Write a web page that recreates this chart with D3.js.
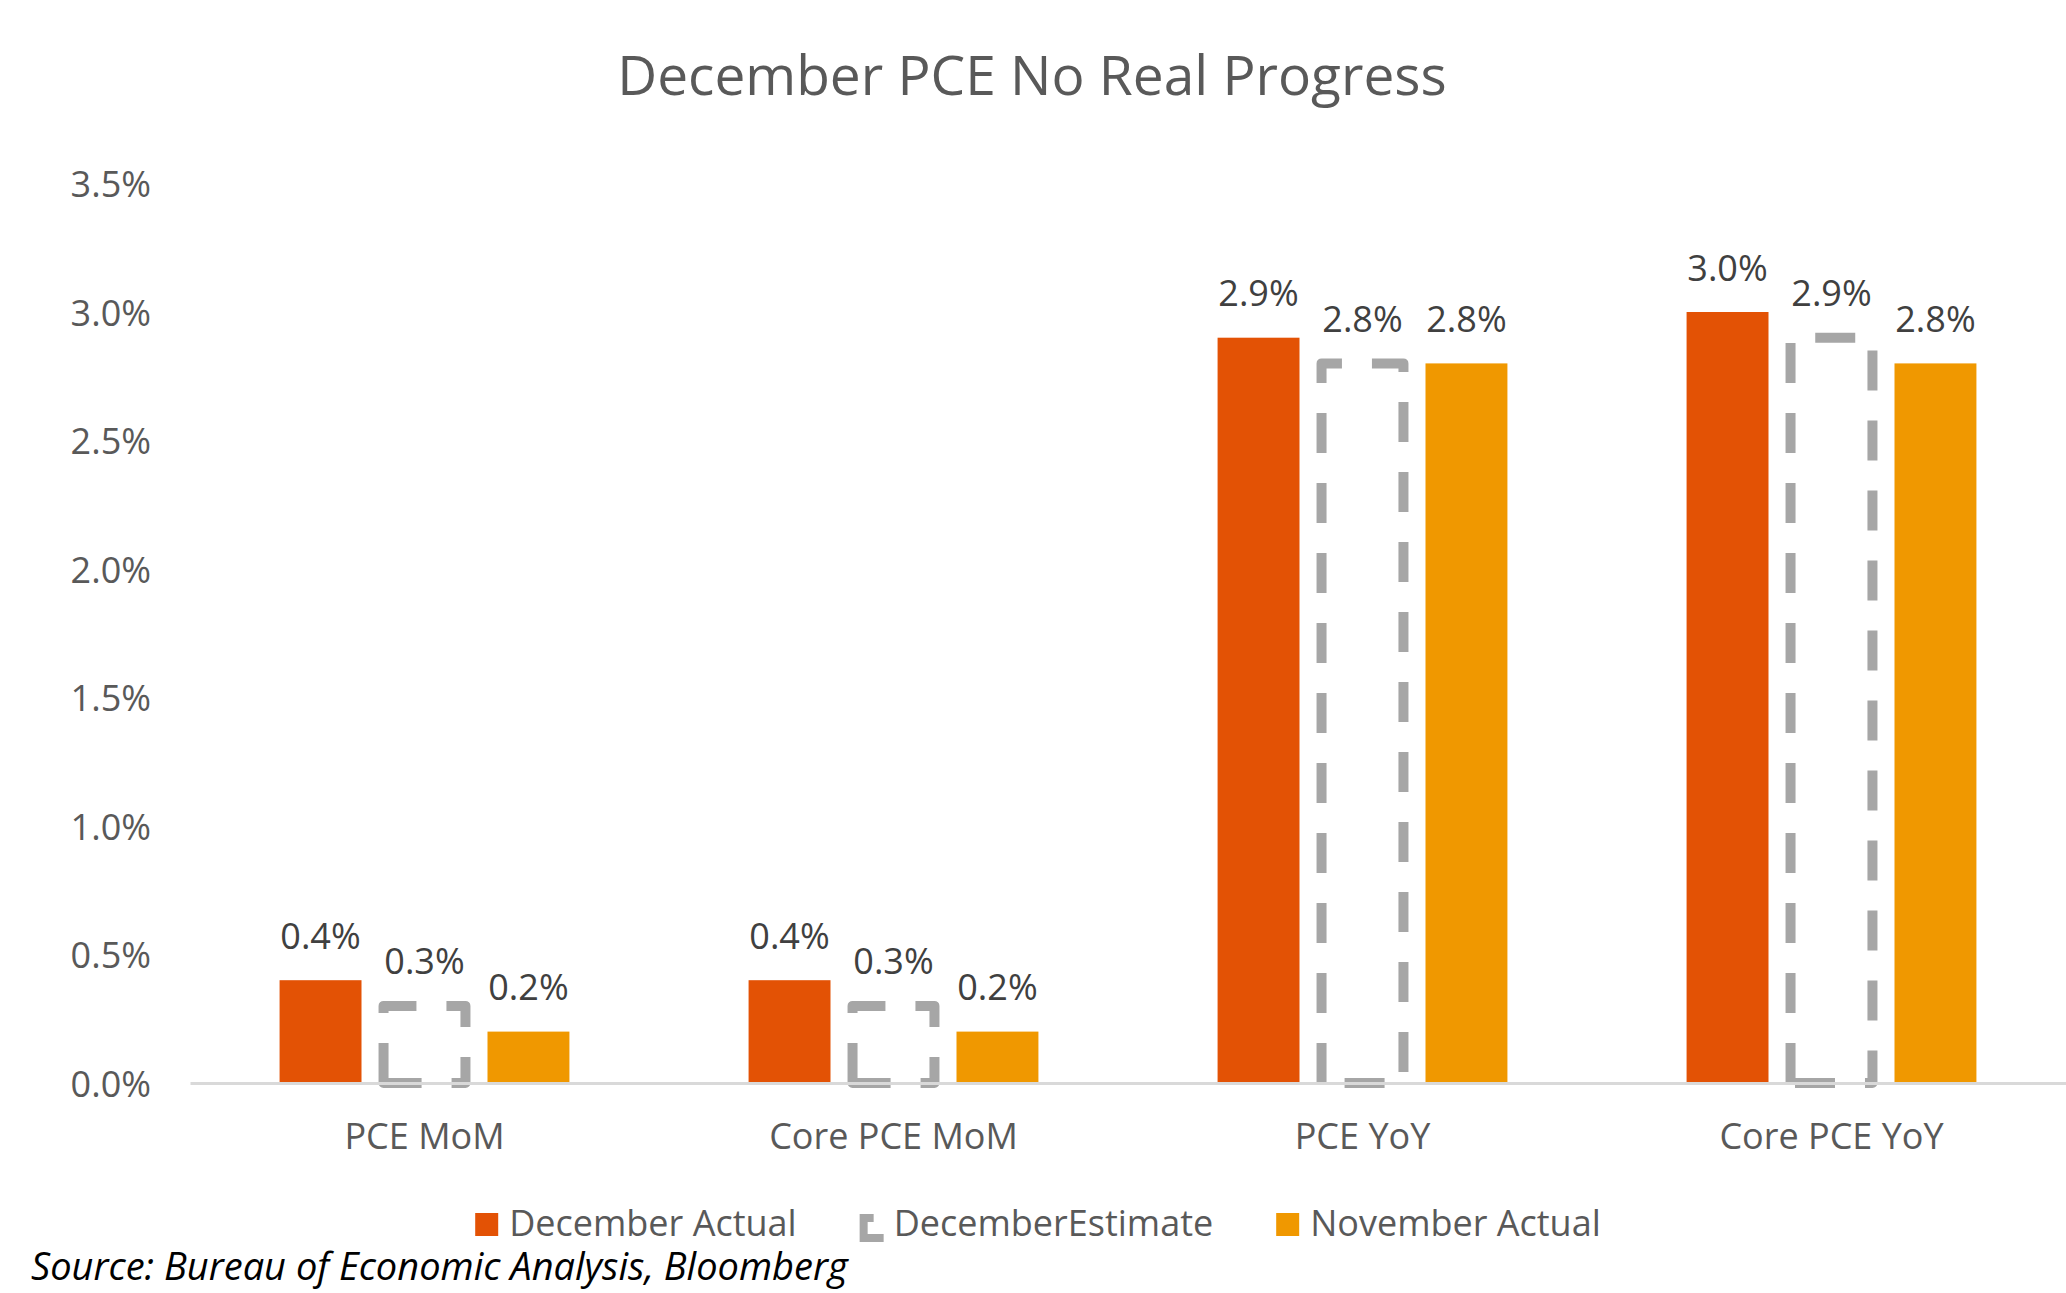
<!DOCTYPE html>
<html>
<head>
<meta charset="utf-8">
<script src="https://cdn.jsdelivr.net/npm/d3@7"></script>
<style>
  body { margin: 0; background: #fff; }
  text { font-family: "Open Sans", sans-serif; }
</style>
</head>
<body>
<div id="container"></div>
<script>
/* DATA */
const categories = ["PCE MoM", "Core PCE MoM", "PCE YoY", "Core PCE YoY"]
const seriesNames = ["December Actual", "DecemberEstimate", "November Actual"]
const decemberActual = [0.4, 0.4, 2.9, 3.0]
const decemberEstimate = [0.3, 0.3, 2.8, 2.9]
const novemberActual = [0.2, 0.2, 2.8, 2.8]
const yTicks = [0, 0.5, 1.0, 1.5, 2.0, 2.5, 3.0, 3.5]
const titleText = "December PCE No Real Progress"
const sourceText = "Source: Bureau of Economic Analysis, Bloomberg"

/* CONSTANTS AND GLOBALS */
const width = 2066,
  height = 1293,
  margin = { top: 183.5, bottom: 210, left: 190, right: 0 }
const colors = ["#E35205", "#A6A6A6", "#F09800"]
const dash = "40 30"

const rows = categories.map((c, i) => ({
  category: c,
  values: [decemberActual[i], decemberEstimate[i], novemberActual[i]]
}))

const svg = d3.select("#container")
  .append("svg")
  .attr("width", width)
  .attr("height", height)

const x0 = d3.scaleBand()
  .domain(categories)
  .range([margin.left, width - margin.right])
  .paddingInner(0.382)
  .paddingOuter(0.191)

const x1 = d3.scaleBand()
  .domain(seriesNames)
  .range([0, x0.bandwidth()])
  .paddingInner(0.212)

const yScale = d3.scaleLinear()
  .domain([0, 3.5])
  .range([height - margin.bottom, margin.top])

// title
svg.append("text")
  .attr("x", 1032)
  .attr("y", 95)
  .attr("text-anchor", "middle")
  .attr("font-size", 55)
  .attr("fill", "#595959")
  .text(titleText)

// y axis (labels only)
const yAxis = svg.append("g")
  .attr("transform", `translate(${margin.left},0)`)
  .call(d3.axisLeft(yScale).tickValues(yTicks).tickSize(0).tickPadding(39)
    .tickFormat(d => d.toFixed(1) + "%"))
yAxis.select(".domain").remove()
yAxis.selectAll("text")
  .attr("font-size", 36)
  .attr("font-family", "Open Sans")
  .attr("fill", "#595959")
  .attr("dy", 13)

// bars
const groups = svg.selectAll("g.cat")
  .data(rows)
  .join("g")
  .attr("class", "cat")
  .attr("transform", d => `translate(${x0(d.category)},0)`)

const barData = d => d.values.map((v, i) => ({ series: seriesNames[i], idx: i, value: v }))

groups.selectAll("rect.solid")
  .data(d => barData(d).filter(b => b.idx !== 1))
  .join("rect")
  .attr("class", "solid")
  .attr("x", d => x1(d.series))
  .attr("width", x1.bandwidth())
  .attr("y", d => yScale(d.value))
  .attr("height", d => yScale(0) - yScale(d.value))
  .attr("fill", d => colors[d.idx])

// dashed estimate bar: path starts bottom-left and goes up, like Excel
groups.selectAll("path.est")
  .data(d => barData(d).filter(b => b.idx === 1))
  .join("path")
  .attr("class", "est")
  .attr("d", d => {
    const xl = x1(d.series), xr = xl + x1.bandwidth()
    return `M${xl},${yScale(0)}V${yScale(d.value)}H${xr}V${yScale(0)}Z`
  })
  .attr("fill", "none")
  .attr("stroke", colors[1])
  .attr("stroke-width", 10)
  .attr("stroke-dasharray", dash)
  .attr("stroke-linejoin", "round")

// data labels
groups.selectAll("text.lbl")
  .data(d => barData(d))
  .join("text")
  .attr("class", "lbl")
  .attr("x", d => x1(d.series) + x1.bandwidth() / 2)
  .attr("y", d => yScale(d.value) - 31.5)
  .attr("text-anchor", "middle")
  .attr("font-size", 36)
  .attr("fill", "#404040")
  .text(d => d.value.toFixed(1) + "%")

// x axis
const xAxis = svg.append("g")
  .attr("transform", `translate(0,${yScale(0)})`)
  .call(d3.axisBottom(x0).tickSize(0).tickPadding(0))
xAxis.select(".domain")
  .attr("stroke", "#D9D9D9")
  .attr("stroke-width", 3)
xAxis.selectAll("text")
  .attr("font-size", 36)
  .attr("font-family", "Open Sans")
  .attr("fill", "#595959")
  .attr("dy", 0)
  .attr("y", 66)

// legend
const legend = svg.append("g").attr("transform", "translate(0,1236)")
const items = legend.selectAll("g")
  .data(seriesNames)
  .join("g")
items.append("text")
  .attr("x", 34)
  .attr("font-size", 36)
  .attr("fill", "#595959")
  .text(d => d)
let cursor = 0
const widths = []
items.each(function () {
  widths.push(34 + d3.select(this).select("text").node().getComputedTextLength())
})
const gap = 63
const total = d3.sum(widths) + gap * (widths.length - 1)
cursor = 1038 - total / 2
items.attr("transform", (d, i) => {
  const t = `translate(${cursor},0)`
  cursor += widths[i] + gap
  return t
})
items.filter((d, i) => i !== 1)
  .insert("rect", "text")
  .attr("x", 0)
  .attr("y", -23)
  .attr("width", 23)
  .attr("height", 23)
  .attr("fill", (d, i) => colors[seriesNames.indexOf(d)])
items.filter((d, i) => i === 1)
  .insert("path", "text")
  .attr("d", "M4,2V-18H20V2Z")
  .attr("fill", "none")
  .attr("stroke", colors[1])
  .attr("stroke-width", 8)
  .attr("stroke-dasharray", "30 22")

// source note
svg.append("text")
  .attr("x", 31)
  .attr("y", 1280)
  .attr("font-size", 38)
  .attr("font-style", "italic")
  .attr("fill", "#000")
  .text(sourceText)
</script>
</body>
</html>
